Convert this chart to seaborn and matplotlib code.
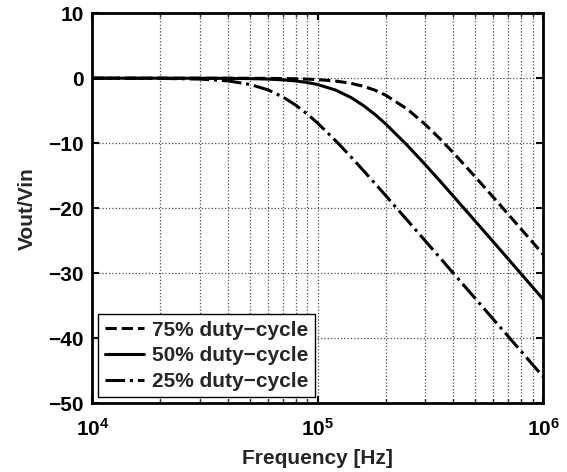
import matplotlib
matplotlib.use("Agg")
import matplotlib.pyplot as plt
import seaborn as sns
import numpy as np
import pandas as pd
from matplotlib.ticker import FixedLocator, FixedFormatter, LogLocator, NullFormatter

# ---- data ----
freq = [1e4, 2e4, 3e4, 4e4, 5e4, 6e4, 7e4, 8e4, 9e4, 1e5, 1.2e5, 1.4e5, 1.6e5,
        1.8e5, 2e5, 2.5e5, 3e5, 3.5e5, 4e5, 5e5, 6e5, 7e5, 8e5, 9e5, 1e6]
duty75 = [0.0, 0.0, -0.002, -0.006, -0.014, -0.029, -0.053, -0.09, -0.144, -0.218,
          -0.44, -0.78, -1.26, -1.87, -2.61, -4.78, -7.13, -9.40, -11.51, -15.20,
          -18.30, -20.95, -23.26, -25.29, -27.12]
duty50 = [0.0, -0.002, -0.009, -0.028, -0.068, -0.14, -0.256, -0.428, -0.667, -0.98,
          -1.83, -2.95, -4.25, -5.63, -7.03, -10.37, -13.32, -15.9, -18.18, -22.02,
          -25.16, -27.84, -30.15, -32.20, -34.03]
duty25 = [-0.002, -0.027, -0.136, -0.417, -0.955, -1.79, -2.89, -4.17, -5.54, -6.93,
          -9.62, -12.07, -14.28, -16.26, -18.06, -21.90, -25.05, -27.72, -30.04, -33.91,
          -37.08, -39.75, -42.07, -44.12, -45.95]
series_labels = ["75% duty\u2212cycle", "50% duty\u2212cycle", "25% duty\u2212cycle"]
x_ticks = [1e4, 1e5, 1e6]
x_ticklabels = [r"$\mathbf{10^{4}}$", r"$\mathbf{10^{5}}$", r"$\mathbf{10^{6}}$"]
y_ticks = [-50, -40, -30, -20, -10, 0, 10]
x_label = "Frequency [Hz]"
y_label = "Vout/Vin"

sns.set_theme(style="white")
plt.rcParams["font.family"] = ["Liberation Sans", "DejaVu Sans"]
plt.rcParams["font.weight"] = "bold"
plt.rcParams["mathtext.fontset"] = "custom"
plt.rcParams["mathtext.bf"] = "Liberation Sans:bold"
plt.rcParams["mathtext.rm"] = "Liberation Sans:bold"
plt.rcParams["axes.unicode_minus"] = True

fig = plt.figure(figsize=(5.67, 4.72), dpi=100)
ax = fig.add_axes([0.163, 0.146, 0.795, 0.826])

styles = ["--", "-", "-."]
for vals, lab, ls in zip([duty75, duty50, duty25], series_labels, styles):
    df = pd.DataFrame({"f": freq, "v": vals})
    sns.lineplot(data=df, x="f", y="v", ax=ax, color="black", linewidth=2.2,
                 linestyle=ls, label=lab, sort=False)

ax.set_xscale("log")
ax.set_xlim(1e4, 1e6)
ax.set_ylim(-50, 10)
ax.xaxis.set_major_locator(FixedLocator(x_ticks))
ax.xaxis.set_major_formatter(FixedFormatter(x_ticklabels))
ax.xaxis.set_minor_locator(LogLocator(base=10, subs=np.arange(2, 10)))
ax.xaxis.set_minor_formatter(NullFormatter())
ax.set_yticks(y_ticks)
ax.set_yticklabels([("\u2212" + str(-t)) if t < 0 else str(t) for t in y_ticks])

ax.grid(True, which="major", axis="both", color="0.3", linestyle=":", linewidth=0.9)
ax.grid(True, which="minor", axis="x", color="0.3", linestyle=":", linewidth=0.9)

for s in ax.spines.values():
    s.set_visible(True)
    s.set_color("black")
    s.set_linewidth(2.0)

ax.tick_params(axis="both", which="major", direction="in", length=5, width=1.5,
               top=True, right=True, bottom=True, left=True, labelsize=15, pad=6,
               colors="black")
ax.tick_params(axis="x", which="minor", direction="in", length=3, width=1.0,
               top=True, bottom=True)
ax.tick_params(axis="x", which="major", pad=11)
for lbl in ax.get_yticklabels():
    lbl.set_fontweight("bold")

ax.set_xlabel(x_label, fontsize=15, fontweight="bold", labelpad=6)
ax.set_ylabel(y_label, fontsize=15, fontweight="bold", labelpad=8)

leg = ax.legend(loc="lower left", bbox_to_anchor=(0.0, 0.0), borderaxespad=0.28,
                frameon=True, fancybox=False, edgecolor="black", framealpha=1,
                prop={"size": 15, "weight": "bold"}, handlelength=1.9,
                labelspacing=0.32, borderpad=0.3, handletextpad=0.4)
leg.get_frame().set_linewidth(1.0)

fig.savefig("out.png", dpi=100)
